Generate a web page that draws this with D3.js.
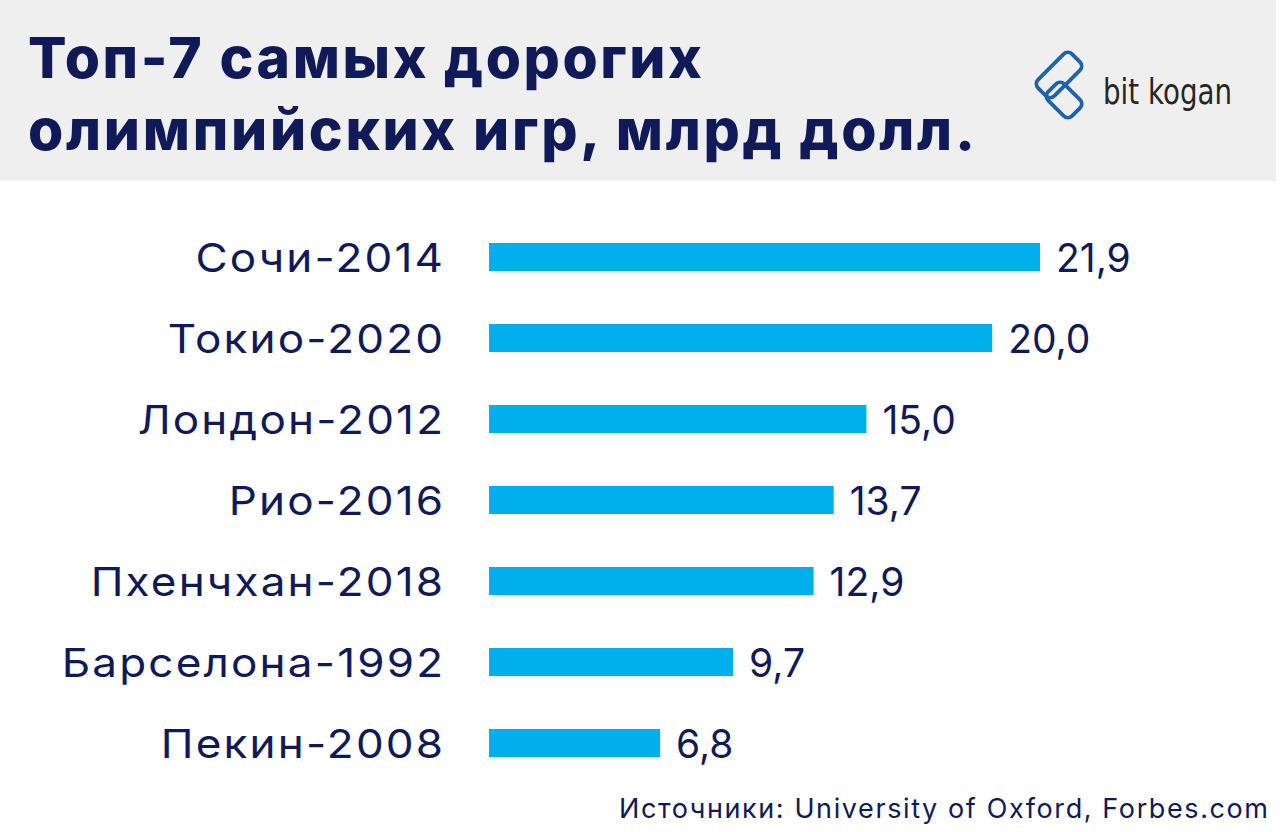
<!DOCTYPE html>
<html>
<head>
<meta charset="utf-8">
<script src="https://cdn.jsdelivr.net/npm/d3@7"></script>
<style>
  html, body { margin: 0; padding: 0; background: #ffffff; }
  svg { display: block; }
</style>
</head>
<body>
<svg id="chart" width="1280" height="832"></svg>
<script>
const titleLines = ["Топ-7 самых дорогих", "олимпийских игр, млрд долл."];
const categories = ["Сочи-2014", "Токио-2020", "Лондон-2012", "Рио-2016", "Пхенчхан-2018", "Барселона-1992", "Пекин-2008"];
const values = [21.9, 20.0, 15.0, 13.7, 12.9, 9.7, 6.8];
const valueLabels = ["21,9", "20,0", "15,0", "13,7", "12,9", "9,7", "6,8"];
const sourceText = "Источники: University of Oxford, Forbes.com";
const brandText = "bit kogan";

const svg = d3.select("#chart");
const navy = "#101a58";
const barColor = "#00afeb";

// header band
svg.append("rect").attr("x", 0).attr("y", 0).attr("width", 1276).attr("height", 181).attr("fill", "#efefef");

// title
const title = svg.append("g");
titleLines.forEach((t, i) => {
  title.append("text")
    .attr("x", 28).attr("y", 78 + i * 72)
    .attr("font-family", "Inter, 'Open Sans', sans-serif")
    .attr("font-weight", 800)
    .attr("font-size", 57)
    .attr("fill", navy)
    .text(t);
});
const titleTargets = [674, 947];
title.selectAll("text").each(function(d, i) {
  const w = this.getComputedTextLength();
  const n = titleLines[i].length;
  d3.select(this).attr("letter-spacing", (titleTargets[i] - w) / (n - 1));
});

// logo
const logo = svg.append("g").attr("fill", "none").attr("stroke", "#1f62aa").attr("stroke-width", 3.8).attr("stroke-linejoin", "round");
logo.append("rect").attr("x", -24).attr("y", -11.5).attr("width", 48).attr("height", 23).attr("rx", 6)
  .attr("transform", "translate(1059,75) rotate(-45)");
logo.append("rect").attr("x", -17).attr("y", -11.5).attr("width", 34).attr("height", 23).attr("rx", 6)
  .attr("transform", "translate(1064,100) rotate(45)");
const brand = svg.append("text")
  .attr("font-family", "'DejaVu Sans', sans-serif")
  .attr("font-size", 35)
  .attr("fill", "#262626")
  .text(brandText);
{
  const w = brand.node().getComputedTextLength();
  brand.attr("transform", `translate(1103,104) scale(${129 / w},1)`);
}

// scales
const x = d3.scaleLinear().domain([0, 21.9]).range([489, 1040]);
const y = d3.scalePoint().domain(categories).range([257, 743]);
const barH = 28;

const rows = categories.map((c, i) => ({ c, v: values[i], lab: valueLabels[i] }));

svg.append("g").selectAll("rect").data(rows).join("rect")
  .attr("x", x(0))
  .attr("y", d => y(d.c) - barH / 2)
  .attr("width", d => x(d.v) - x(0))
  .attr("height", barH)
  .attr("fill", barColor);

const catLS = 2;
const catSX = 1.1;
svg.append("g").selectAll("text").data(rows).join("text")
  .attr("transform", d => `translate(443,${y(d.c) + 15}) scale(${catSX},1)`)
  .attr("x", catLS)
  .attr("text-anchor", "end")
  .attr("font-family", "Inter, sans-serif")
  .attr("font-weight", 400)
  .attr("font-size", 40)
  .attr("letter-spacing", catLS)
  .attr("fill", navy)
  .text(d => d.c);

svg.append("g").selectAll("text").data(rows).join("text")
  .attr("transform", d => `translate(${x(d.v) + 16},${y(d.c) + 15})`)
  .attr("font-family", "Inter, sans-serif")
  .attr("font-weight", 400)
  .attr("font-size", 39)
  .attr("fill", navy)
  .text(d => d.lab);

const srcLS = 1.6;
svg.append("text")
  .attr("x", 1268 + srcLS).attr("y", 818)
  .attr("text-anchor", "end")
  .attr("font-family", "Inter, sans-serif")
  .attr("font-size", 27)
  .attr("letter-spacing", srcLS)
  .attr("fill", navy)
  .text(sourceText);
</script>
</body>
</html>
